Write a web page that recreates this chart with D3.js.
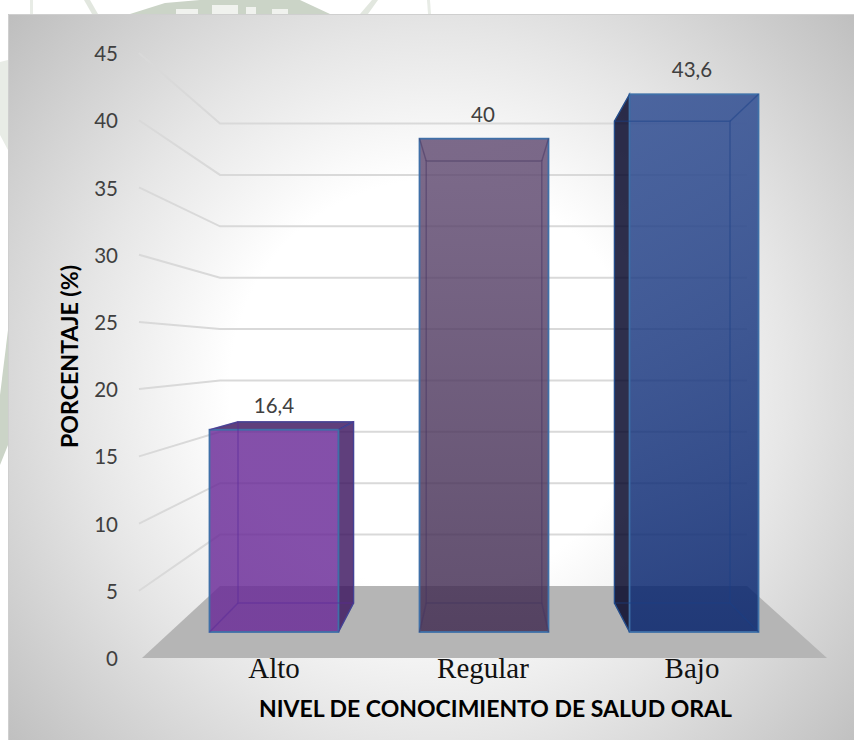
<!DOCTYPE html>
<html><head><meta charset="utf-8">
<script src="https://cdnjs.cloudflare.com/ajax/libs/d3/7.8.5/d3.min.js"></script>
<style>html,body{margin:0;padding:0;background:#fff}svg{display:block}</style>
</head><body><svg id="c" width="854" height="740"></svg>
<script>
const categories = ["Alto", "Regular", "Bajo"];
const values = [16.4, 40, 43.6];
const valueLabels = ["16,4", "40", "43,6"];
const tickValues = [0, 5, 10, 15, 20, 25, 30, 35, 40, 45];
const xTitle = "NIVEL DE CONOCIMIENTO DE SALUD ORAL";
const yTitle = "PORCENTAJE (%)";

const faceTop = ["#692997", "#604a71", "#29488f"];
const faceBottom = ["#692997", "#3f294f", "#001e6a"];
const sideFill = ["#3c155f", "#3f294f", "#000125"];
const innerEdge = ["#5a2a9a", "#43345f", "#1a4088"];

const svg = d3.select("#c");
const defs = svg.append("defs");
const bg = defs.append("radialGradient").attr("id", "bg")
  .attr("gradientUnits", "userSpaceOnUse").attr("cx", 435).attr("cy", 385).attr("r", 570);
[[0, "#fff"], [0.36, "#fff"], [0.62, "#e6e6e6"], [1, "#bdbdbd"]].forEach(s =>
  bg.append("stop").attr("offset", s[0]).attr("stop-color", s[1]));
faceTop.forEach((c, i) => {
  const g = defs.append("linearGradient").attr("id", "f" + i).attr("x1", 0).attr("y1", 0).attr("x2", 0).attr("y2", 1);
  g.append("stop").attr("offset", 0).attr("stop-color", c);
  g.append("stop").attr("offset", 1).attr("stop-color", faceBottom[i]);
});

// faint watermark behind the panel
const wm = svg.append("g").attr("fill", "#cbd4c7");
const poly = p => p.map(d => d.join(",")).join(" ");
wm.append("polygon").attr("points", poly([[130,14],[165,3],[200,0],[300,0],[330,14]]));
wm.append("polygon").attr("points", poly([[84,0],[90,0],[98,14],[92,14]])).attr("fill", "#e2e7df");
wm.append("polygon").attr("points", poly([[372,0],[378,0],[368,14],[360,14]])).attr("fill", "#e2e7df");
wm.append("polygon").attr("points", poly([[30,0],[33,0],[33,14],[30,14]])).attr("fill", "#e8ece6");
wm.append("polygon").attr("points", poly([[427,0],[430,0],[431,14],[428,14]])).attr("fill", "#e8ece6");
wm.append("polygon").attr("points", poly([[0,62],[8,60],[8,150],[0,135]])).attr("fill", "#e8ece6");
wm.append("polygon").attr("points", poly([[0,395],[8,330],[8,445],[0,465]])).attr("fill", "#cbd4c7");
[[176,9,22],[212,5,26],[246,7,10],[272,9,16]].forEach(r =>
  wm.append("rect").attr("x", r[0]).attr("y", r[1]).attr("width", r[2]).attr("height", 14 - r[1]).attr("fill", "#f0f2ee"));

// panel
svg.append("rect").attr("x", 8).attr("y", 14).attr("width", 846).attr("height", 726).attr("fill", "url(#bg)");
svg.append("path").attr("d", "M8.5,740V14.5H854").attr("fill", "none").attr("stroke", "#cfcfcf");

// scales: the front plane and the back wall of the 3D box
const yFront = d3.scaleLinear().domain([0, 45]).range([658, 53]);
const yWall = d3.scaleLinear().domain([0, 45]).range([586, 123.5]);
const yBarFront = d3.scaleLinear().domain([0, 45]).range([632, 77]);
const yBarBack = d3.scaleLinear().domain([0, 45]).range([603, 105.75]);
const xFront = d3.scaleBand().domain(categories).range([209.5, 758.5]).paddingInner(0.386);
const xBack = d3.scaleBand().domain(categories).range([238, 730]).paddingInner(0.386);
const xLabel = d3.scalePoint().domain(categories).range([274, 692]);
const wallLeft = 220, wallRight = 747, sideLeft = 139, floorLeft = 142, floorRight = 827;

// floor
svg.append("polygon").attr("fill", "#b5b5b5").attr("points", poly([
  [floorLeft, yFront(0)], [wallLeft, yWall(0)], [wallRight, yWall(0)], [floorRight, yFront(0)]]));

// gridlines
const line = d3.line();
svg.append("g").selectAll("path").data(tickValues.filter(t => t > 0)).join("path")
  .attr("fill", "none").attr("stroke", "#d9d9d9").attr("stroke-width", 2)
  .attr("d", t => line([[sideLeft, yFront(t)], [wallLeft, yWall(t)], [wallRight, yWall(t)]]));

// axis tick labels
const axis = svg.append("g").attr("transform", "translate(126,1)")
  .call(d3.axisLeft(yFront).tickValues(tickValues).tickSize(0).tickPadding(8));
axis.select(".domain").remove();
axis.selectAll("text").attr("font-family", "Lato").attr("font-size", 20.5).attr("fill", "#404040");

// bars
const bars = categories.map((c, i) => {
  const v = values[i];
  const fl = xFront(c), fr = fl + xFront.bandwidth(), bl = xBack(c), br = bl + xBack.bandwidth();
  const ft = yBarFront(v), fb = yBarFront(0), bt = yBarBack(v), bb = yBarBack(0);
  return {c, i, fl, fr, bl, br, ft, fb, bt, bb};
});
const g = svg.append("g");
bars.forEach(b => {
  const bar = g.append("g");
  const faces = [];
  if (b.bl < b.fl) faces.push([[b.fl, b.ft], [b.bl, b.bt], [b.bl, b.bb], [b.fl, b.fb]]);
  if (b.br > b.fr) faces.push([[b.fr, b.ft], [b.br, b.bt], [b.br, b.bb], [b.fr, b.fb]]);
  if (b.bt < b.ft) faces.push([[b.fl, b.ft], [b.bl, b.bt], [b.br, b.bt], [b.fr, b.ft]]);
  faces.forEach(f => bar.append("polygon").attr("points", poly(f))
    .attr("fill", sideFill[b.i]).attr("fill-opacity", 0.82)
    .attr("stroke", "#2f5a90").attr("stroke-width", 1.2));
  bar.append("rect").attr("x", b.fl).attr("y", b.ft).attr("width", b.fr - b.fl).attr("height", b.fb - b.ft)
    .attr("fill", "url(#f" + b.i + ")").attr("fill-opacity", 0.82)
    .attr("stroke", "#3f70a8").attr("stroke-width", 1.8);
  const edges = bar.append("g").attr("fill", "none").attr("stroke", innerEdge[b.i])
    .attr("stroke-width", 1.4).attr("stroke-opacity", 0.5);
  edges.append("rect").attr("x", b.bl).attr("y", b.bt).attr("width", b.br - b.bl).attr("height", b.bb - b.bt);
  [[b.fl, b.ft, b.bl, b.bt], [b.fr, b.ft, b.br, b.bt], [b.fl, b.fb, b.bl, b.bb], [b.fr, b.fb, b.br, b.bb]]
    .forEach(e => edges.append("line").attr("x1", e[0]).attr("y1", e[1]).attr("x2", e[2]).attr("y2", e[3]));
});

// value labels
svg.append("g").selectAll("text").data(bars).join("text")
  .attr("x", b => xLabel(b.c))
  .attr("y", b => b.ft - 17)
  .attr("text-anchor", "middle").attr("font-family", "Lato").attr("font-size", 20.5).attr("fill", "#404040")
  .text(b => valueLabels[b.i]);

// category labels
svg.append("g").selectAll("text").data(bars).join("text")
  .attr("x", b => xLabel(b.c))
  .attr("y", 678).attr("text-anchor", "middle")
  .attr("font-family", "Liberation Serif").attr("font-size", 29).attr("fill", "#111")
  .text(b => b.c);

// titles
svg.append("text").attr("x", 259).attr("y", 716.5)
  .attr("font-family", "Lato").attr("font-weight", 700).attr("font-size", 22).attr("fill", "#000")
  .attr("textLength", 473).attr("lengthAdjust", "spacingAndGlyphs").text(xTitle);
svg.append("text").attr("transform", "translate(78,448) rotate(-90)")
  .attr("font-family", "Lato").attr("font-weight", 700).attr("font-size", 22).attr("fill", "#000")
  .attr("textLength", 183).attr("lengthAdjust", "spacingAndGlyphs").text(yTitle);
</script></body></html>
